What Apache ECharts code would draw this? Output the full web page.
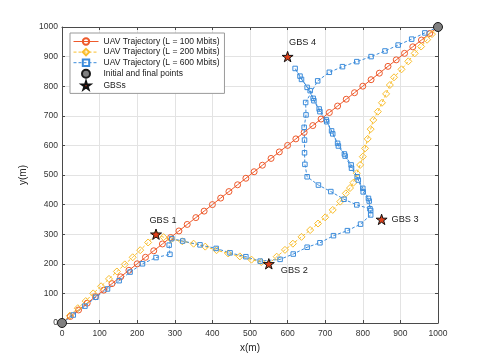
<!DOCTYPE html>
<html>
<head>
<meta charset="utf-8">
<script src="https://cdn.jsdelivr.net/npm/echarts@6/dist/echarts.min.js"></script>
<style>
  html, body { margin: 0; padding: 0; background: #fff; }
  #myChart { width: 485px; height: 363px; }
</style>
</head>
<body>
<div id="myChart"></div>
<script>
// trajectories, [x, y] in metres
const traj100 = [
  [0, 0], [22, 22], [44, 44], [67, 67], [89, 89], [111, 111], [133, 133], [156, 156],
  [178, 178], [200, 200], [222, 222], [244, 244], [267, 267], [289, 289], [311, 311],
  [333, 333], [356, 356], [378, 378], [400, 400], [422, 422], [444, 444], [467, 467],
  [489, 489], [511, 511], [533, 533], [556, 556], [578, 578], [600, 600], [622, 622],
  [644, 644], [667, 667], [689, 689], [711, 711], [733, 733], [756, 756], [778, 778],
  [800, 800], [822, 822], [844, 844], [867, 867], [889, 889], [911, 911], [933, 933],
  [956, 956], [978, 978], [1000, 1000]
];

const traj200 = [
  [0, 0], [21, 25], [42, 50], [63, 74], [83, 100], [104, 124], [125, 149], [146, 174],
  [167, 198], [188, 222], [208, 246], [229, 272], [250, 300],
  [270, 290], [290, 283], [320, 276], [350, 268], [381, 258], [411, 246], [442, 235],
  [473, 225], [504, 214], [530, 206], [550, 200],
  [571, 224], [593, 247], [614, 268], [637, 291], [660, 314], [681, 336], [700, 357],
  [720, 382], [740, 410], [755, 438], [766, 456], [775, 474], [784, 506], [793, 534],
  [800, 562], [806, 590], [813, 622], [821, 655], [828, 686], [840, 714], [851, 744],
  [862, 774], [872, 804], [883, 830], [903, 857], [921, 884], [938, 911], [955, 934],
  [971, 957], [984, 976], [1000, 1000]
];

const traj600 = [
  [0, 0], [30, 27], [61, 57], [90, 87], [121, 115], [152, 143], [181, 172], [214, 200],
  [250, 221], [287, 232], [285, 263], [292, 285], [321, 277], [367, 264], [410, 252],
  [447, 237], [489, 224], [527, 209], [580, 215], [615, 233], [652, 256], [686, 271],
  [722, 295], [759, 312], [794, 334], [821, 365], [821, 380],
  [817, 412], [801, 443], [788, 483], [770, 523], [753, 564], [735, 598], [720, 639],
  [704, 680], [686, 714], [670, 751], [660, 785], [637, 823], [620, 860],
  [633, 834], [652, 796], [668, 759], [684, 723], [703, 686], [717, 649], [733, 607],
  [751, 571], [769, 534], [785, 494], [800, 455], [815, 421], [819, 386],
  [784, 399], [750, 418], [715, 444], [682, 466], [652, 494], [646, 536], [645, 575],
  [645, 618], [644, 661], [649, 703], [648, 745],
  [680, 818], [711, 847], [746, 866], [784, 883], [822, 900], [859, 919], [894, 939],
  [930, 959], [965, 980], [1000, 1000]
];

const endPoints = [[0, 0], [1000, 1000]];
const gbsPoints = [[250, 300], [550, 200], [850, 350], [600, 900]];
const gbsNames = ['GBS 1', 'GBS 2', 'GBS 3', 'GBS 4'];

const seriesNames = [
  'UAV Trajectory (L = 100 Mbits)',
  'UAV Trajectory (L = 200 Mbits)',
  'UAV Trajectory (L = 600 Mbits)',
  'Initial and final points',
  'GBSs'
];

const FONT = 'Liberation Sans, Arial, sans-serif';
const RED = '#EE5A2C';
const YELLOW = '#F9BE2E';
const BLUE = '#3C8CDB';
const STAR = 'path://M50,0 L61,35 L98,35 L68,57 L79,91 L50,70 L21,91 L32,57 L2,35 L39,35 Z';

// where each GBS label sits relative to its star
const gbsLabelPos = [
  { position: 'top', offset: [7, 0], distance: 4 },
  { position: 'right', offset: [2, 7], distance: 4 },
  { position: 'right', offset: [0, 0], distance: 4 },
  { position: 'top', offset: [15, 0], distance: 4 }
];

const chart = echarts.init(document.getElementById('myChart'));

const valueAxis = (extra) => Object.assign({
  type: 'value',
  min: 0,
  max: 1000,
  interval: 100,
  axisLine: { show: true, onZero: false, lineStyle: { color: '#4a4a4a', width: 1 } },
  axisTick: { show: true, inside: true, length: 3, lineStyle: { color: '#4a4a4a' } },
  splitLine: { show: false }
}, extra);

const trajSeries = (name, data, color, symbol, size, dashed) => ({
  name: name,
  type: 'line',
  data: data,
  symbol: symbol,
  symbolSize: size,
  clip: false,
  animation: false,
  lineStyle: { color: color, width: 1, type: dashed ? [3, 2] : 'solid' },
  itemStyle: { color: 'rgba(255,255,255,0)', borderColor: color, borderWidth: 1 }
});

const option = {
  backgroundColor: '#fff',
  animation: false,
  textStyle: { fontFamily: FONT },
  grid: { left: 62, right: 47, top: 27, bottom: 40 },
  legend: {
    orient: 'vertical',
    left: 70,
    top: 33,
    padding: [4, 5, 3, 3],
    itemWidth: 25,
    itemHeight: 8,
    itemGap: 1.6,
    backgroundColor: '#fff',
    borderColor: '#9a9a9a',
    borderWidth: 1,
    borderRadius: 0,
    data: seriesNames,
    lineStyle: { width: 1 },
    textStyle: { fontSize: 8.5, color: '#1a1a1a', fontFamily: FONT }
  },
  xAxis: [
    valueAxis({
      position: 'bottom',
      name: 'x(m)',
      nameLocation: 'middle',
      nameGap: 18,
      nameTextStyle: { fontSize: 10, color: '#262626' },
      axisLabel: { fontSize: 8.5, color: '#333', margin: 6, formatter: (v) => String(v) },
      splitLine: { show: true, lineStyle: { color: '#e3e3e3', width: 1 } }
    }),
    valueAxis({ position: 'top', axisLabel: { show: false } })
  ],
  yAxis: [
    valueAxis({
      position: 'left',
      name: 'y(m)',
      nameLocation: 'middle',
      nameGap: 33,
      nameTextStyle: { fontSize: 10, color: '#262626' },
      axisLabel: { fontSize: 8.5, color: '#333', margin: 4, formatter: (v) => String(v) },
      splitLine: { show: true, lineStyle: { color: '#e3e3e3', width: 1 } }
    }),
    valueAxis({ position: 'right', axisLabel: { show: false } })
  ],
  series: [
    trajSeries(seriesNames[0], traj100, RED, 'circle', 6, false),
    trajSeries(seriesNames[1], traj200, YELLOW, 'diamond', 7, true),
    trajSeries(seriesNames[2], traj600, BLUE, 'rect', 4.5, true),
    {
      name: seriesNames[3],
      type: 'scatter',
      data: endPoints,
      symbol: 'circle',
      symbolSize: 9,
      clip: false,
      z: 5,
      itemStyle: { color: '#808080', borderColor: '#1a1a1a', borderWidth: 1, opacity: 1 }
    },
    {
      name: seriesNames[4],
      type: 'scatter',
      symbol: STAR,
      symbolSize: 11,
      symbolKeepAspect: true,
      clip: false,
      z: 5,
      itemStyle: { color: '#E0401A', borderColor: '#111', borderWidth: 1, opacity: 1 },
      data: gbsPoints.map((p, i) => ({
        value: p,
        label: Object.assign({
          show: true,
          formatter: gbsNames[i],
          fontSize: 9.2,
          color: '#1a1a1a',
          fontFamily: FONT
        }, gbsLabelPos[i])
      }))
    }
  ]
};

chart.setOption(option);
</script>
</body>
</html>
